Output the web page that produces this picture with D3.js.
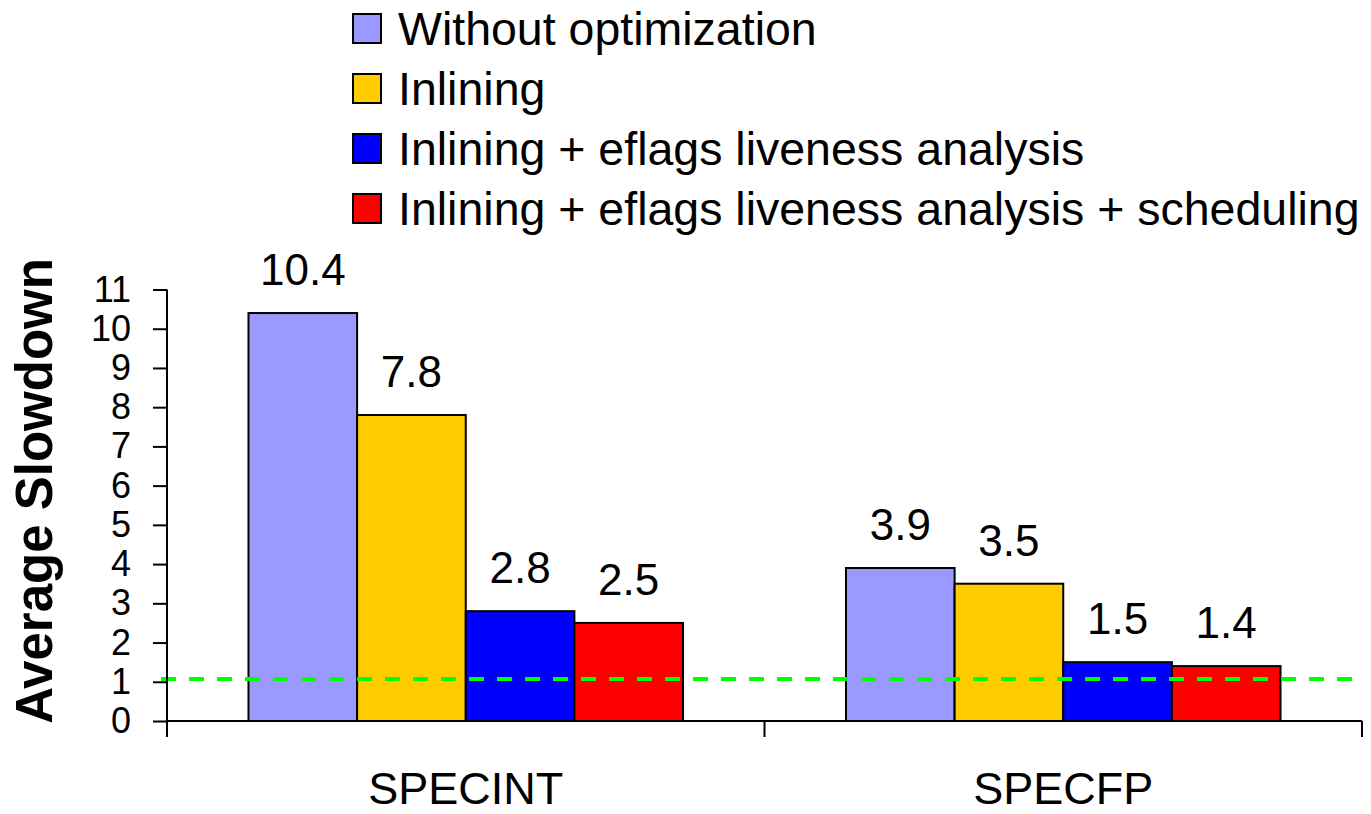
<!DOCTYPE html>
<html>
<head>
<meta charset="utf-8">
<script src="https://cdn.jsdelivr.net/npm/d3@7"></script>
<style>
  html, body { margin: 0; padding: 0; background: #fff; }
  svg { display: block; font-family: "Liberation Sans", Arial, sans-serif; }
</style>
</head>
<body>
<svg id="chart" width="1371" height="814"></svg>
<script>
const categories = ["SPECINT", "SPECFP"];
const seriesNames = [
  "Without optimization",
  "Inlining",
  "Inlining + eflags liveness analysis",
  "Inlining + eflags liveness analysis + scheduling"
];
const seriesColors = ["#9999FF", "#FFCC00", "#0000FF", "#FF0000"];
const valuesSPECINT = [10.4, 7.8, 2.8, 2.5];
const valuesSPECFP = [3.9, 3.5, 1.5, 1.4];
const yTicks = [0, 1, 2, 3, 4, 5, 6, 7, 8, 9, 10, 11];
const baselineValue = 1.07;
const yTitle = "Average Slowdown";

(function () {
const data = [valuesSPECINT, valuesSPECFP];

const svg = d3.select("#chart");
const mLeft = 167, mRight = 1362, mTop = 289.5, mBottom = 721;

const x0 = d3.scaleBand().domain(categories).range([mLeft, mRight]).padding(0);
const x1 = d3.scaleBand().domain(d3.range(seriesNames.length))
  .range([0, x0.bandwidth()]).paddingInner(0).paddingOuter(0.75);
const y = d3.scaleLinear().domain([0, 11]).range([mBottom, mTop]);

// Bars
const groups = svg.append("g").selectAll("g")
  .data(categories)
  .join("g")
  .attr("transform", d => `translate(${x0(d)},0)`);

groups.each(function(cat, ci) {
  const g = d3.select(this);
  const vals = data[ci];
  g.selectAll("rect")
    .data(vals)
    .join("rect")
    .attr("x", (d, i) => x1(i))
    .attr("y", d => y(d))
    .attr("width", x1.bandwidth())
    .attr("height", d => y(0) - y(d))
    .attr("fill", (d, i) => seriesColors[i])
    .attr("stroke", "#000")
    .attr("stroke-width", 2);
  g.selectAll("text.val")
    .data(vals)
    .join("text")
    .attr("class", "val")
    .attr("x", (d, i) => x1(i) + x1.bandwidth() / 2)
    .attr("y", d => y(d) - 28)
    .attr("text-anchor", "middle")
    .attr("font-size", 44)
    .attr("fill", "#000")
    .text(d => d.toFixed(1));
});

// Baseline dashed line
svg.append("line")
  .attr("x1", 161).attr("x2", 1356)
  .attr("y1", y(baselineValue)).attr("y2", y(baselineValue))
  .attr("stroke", "#00ff00")
  .attr("stroke-width", 4)
  .attr("stroke-dasharray", "15,13");

// Y axis
const yAxis = d3.axisLeft(y).tickValues(yTicks).tickSize(14).tickPadding(22).tickFormat(d3.format("d"));
const yg = svg.append("g").attr("transform", `translate(${mLeft},0)`).call(yAxis);
yg.select(".domain").remove();
yg.selectAll(".tick line").attr("stroke", "#000").attr("stroke-width", 2);
yg.selectAll(".tick text").attr("font-size", 36).attr("fill", "#000")
  .attr("font-family", "'Liberation Sans', Arial, sans-serif");
svg.append("line")
  .attr("x1", mLeft).attr("x2", mLeft)
  .attr("y1", y(11)).attr("y2", mBottom + 16)
  .attr("stroke", "#000").attr("stroke-width", 2);

// X axis
svg.append("line")
  .attr("x1", mLeft).attr("x2", mRight)
  .attr("y1", mBottom).attr("y2", mBottom)
  .attr("stroke", "#000").attr("stroke-width", 2);
const boundaries = categories.map(c => x0(c)).concat([x0(categories[categories.length - 1]) + x0.bandwidth()]);
svg.append("g").selectAll("line")
  .data(boundaries.slice(1))
  .join("line")
  .attr("x1", d => d).attr("x2", d => d)
  .attr("y1", mBottom).attr("y2", mBottom + 16)
  .attr("stroke", "#000").attr("stroke-width", 2);
svg.append("g").selectAll("text")
  .data(categories)
  .join("text")
  .attr("x", d => x0(d) + x0.bandwidth() / 2)
  .attr("y", 804)
  .attr("text-anchor", "middle")
  .attr("font-size", 45)
  .attr("fill", "#000")
  .text(d => d);

// Y title
svg.append("text")
  .attr("transform", "translate(52,491) rotate(-90)")
  .attr("text-anchor", "middle")
  .attr("font-size", 51)
  .attr("font-weight", "bold")
  .attr("fill", "#000")
  .text(yTitle);

// Legend
const legend = svg.append("g").attr("transform", "translate(353,14)");
const items = legend.selectAll("g")
  .data(seriesNames)
  .join("g")
  .attr("transform", (d, i) => `translate(0,${i * 60})`);
items.append("rect")
  .attr("x", 0).attr("y", 0).attr("width", 28).attr("height", 29)
  .attr("fill", (d, i) => seriesColors[i])
  .attr("stroke", "#000").attr("stroke-width", 2);
items.append("text")
  .attr("x", 45).attr("y", 31)
  .attr("font-size", 46.5)
  .attr("fill", "#000")
  .text(d => d);
})();
</script>
</body>
</html>
